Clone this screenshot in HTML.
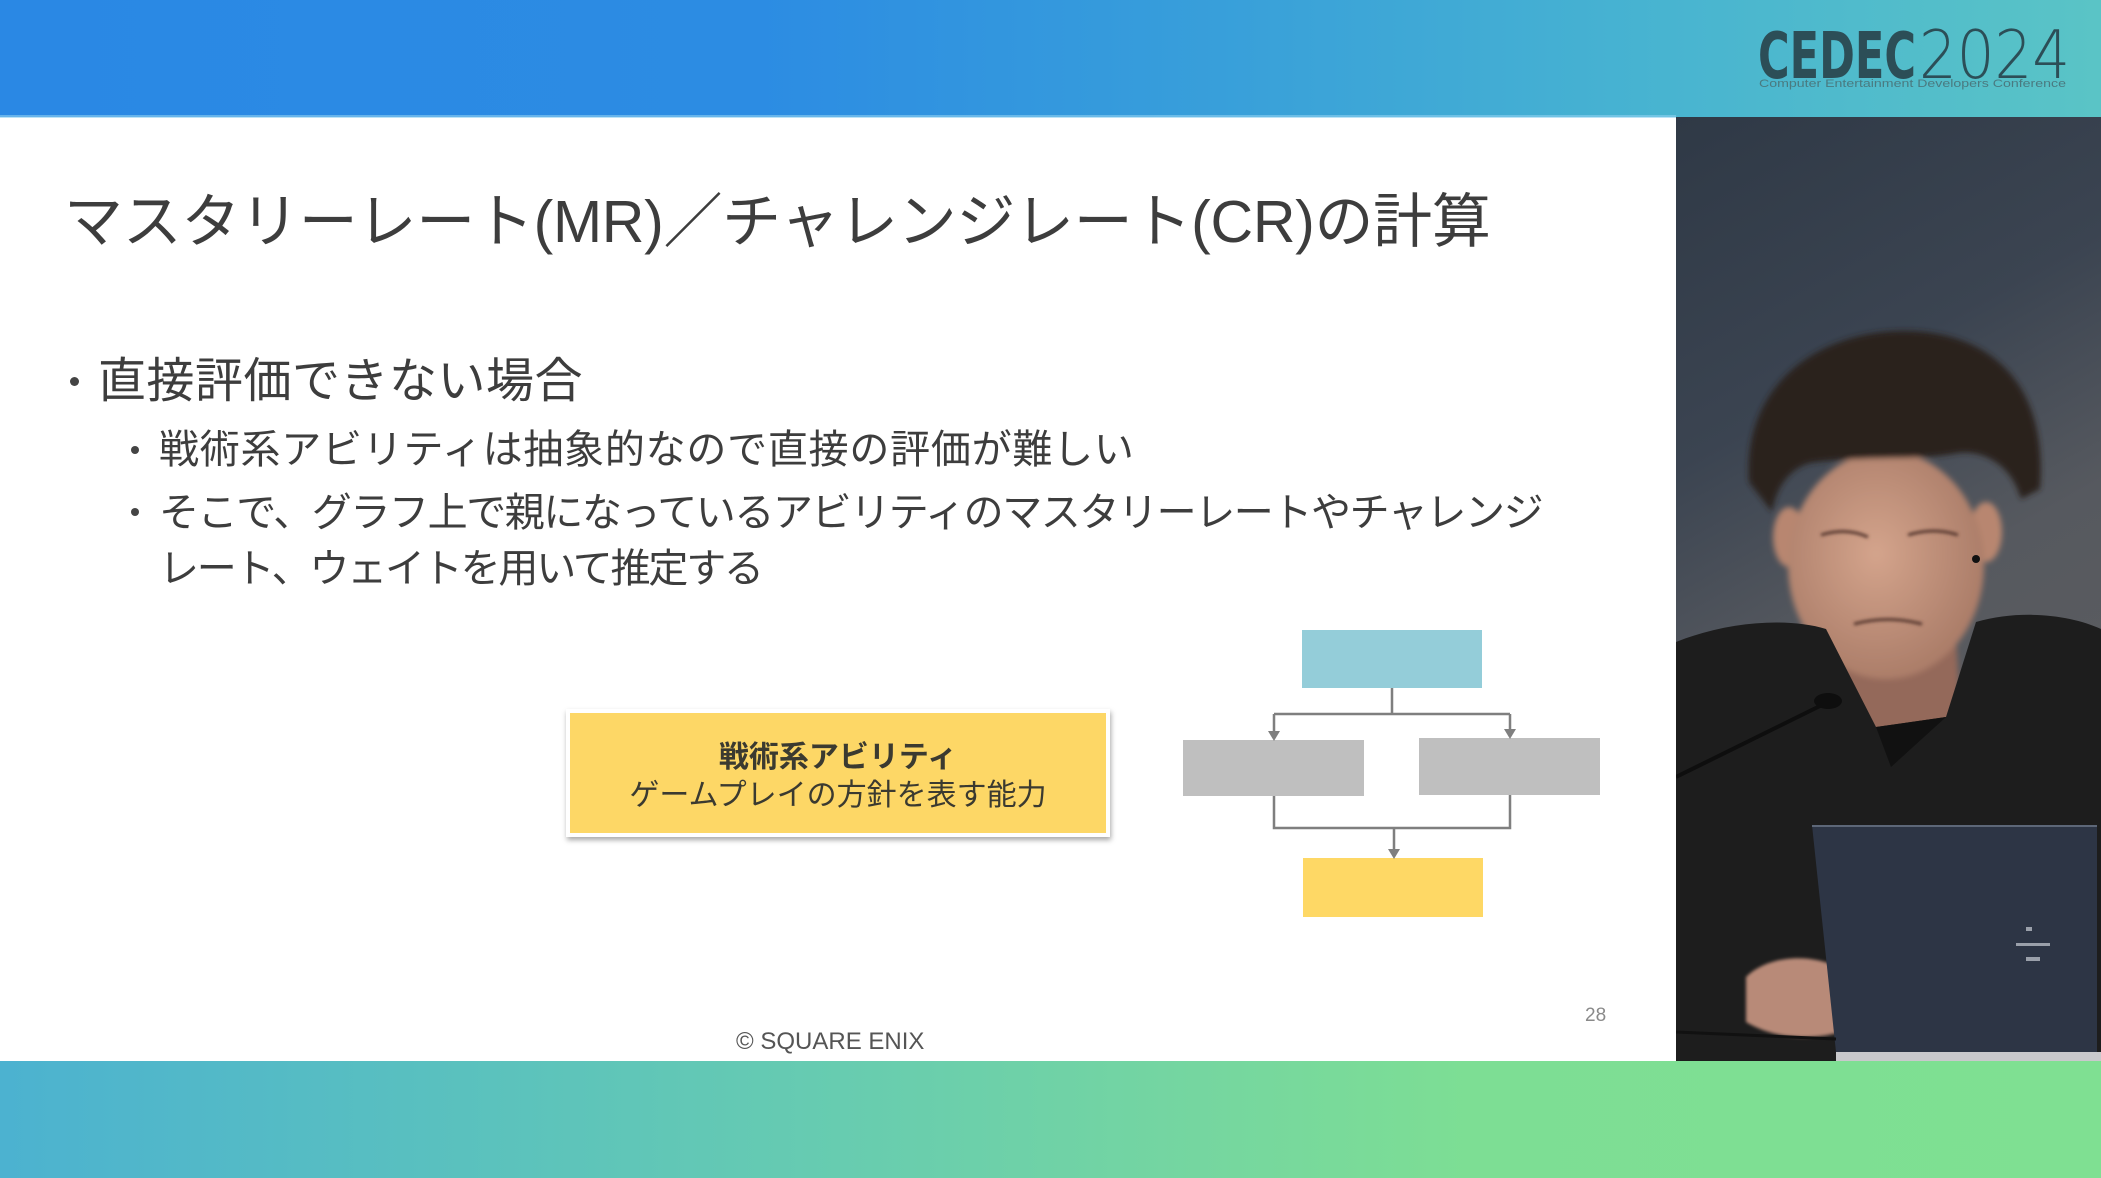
<!DOCTYPE html>
<html><head><meta charset="utf-8">
<style>
html,body{margin:0;padding:0;}
body{width:2101px;height:1178px;position:relative;overflow:hidden;background:#fff;font-family:"Liberation Sans","Noto Sans CJK JP",sans-serif;color:#3f3f3f;}
.abs{position:absolute;white-space:nowrap;}
#top{left:0;top:0;width:2101px;height:117px;background:linear-gradient(90deg,#2a88e4 0%,#2c8ce3 36%,#389fda 58%,#47b3d1 78%,#5ac4c6 100%);}
#topline{left:0;top:115px;width:1676px;height:3px;background:#8fd0f0;opacity:.6;}
#bot{left:0;top:1061px;width:2101px;height:117px;background:linear-gradient(90deg,#4cb2d0 0%,#5ac1be 22%,#67ccb0 40%,#75d6a0 57%,#7dde94 70%,#7fe092 100%);}
.t{font-family:"Liberation Sans","Noto Sans CJK JP",sans-serif;color:#3d3d3d;}
.dot{position:absolute;border-radius:50%;background:#444;}
#ybox{left:566px;top:709px;width:536px;height:120px;background:#fdd766;border:4px solid #fff;box-shadow:1px 3px 5px rgba(0,0,0,.35);}
</style></head>
<body>
<div id="top" class="abs"></div>
<div id="topline" class="abs"></div>

<!-- CEDEC logo -->
<svg class="abs" style="left:1700px;top:0" width="401" height="117" viewBox="1700 0 401 117">
  <text x="1758" y="78" font-family="DejaVu Sans, sans-serif" font-weight="bold" font-size="64" fill="#2c4e57" textLength="158" lengthAdjust="spacingAndGlyphs">CEDEC</text>
  <text x="1919" y="78" font-family="DejaVu Sans, sans-serif" font-weight="200" font-size="67" fill="#2c4e57" textLength="151" lengthAdjust="spacingAndGlyphs">2024</text>
  <text x="1759" y="87" font-family="Liberation Sans, sans-serif" font-size="11" fill="#4a7a80" textLength="307" lengthAdjust="spacingAndGlyphs">Computer Entertainment Developers Conference</text>
</svg>

<!-- Title -->
<div class="abs t" style="left:64px;top:193px;font-size:59px;line-height:59px;letter-spacing:-0.3px;">マスタリーレート(MR)／チャレンジレート(CR)の計算</div>

<!-- Bullets -->
<div class="dot" style="left:70px;top:377px;width:9px;height:9px;"></div>
<div class="abs t" style="left:98px;top:358px;font-size:48px;line-height:48px;letter-spacing:0.5px;">直接評価できない場合</div>

<div class="dot" style="left:131px;top:446px;width:8px;height:8px;"></div>
<div class="abs t" style="left:159px;top:430px;font-size:40px;line-height:40px;letter-spacing:0.75px;">戦術系アビリティは抽象的なので直接の評価が難しい</div>

<div class="dot" style="left:131px;top:508px;width:8px;height:8px;"></div>
<div class="abs t" style="left:159px;top:493px;font-size:40px;line-height:40px;letter-spacing:-1.4px;">そこで、グラフ上で親になっているアビリティのマスタリーレートやチャレンジ</div>
<div class="abs t" style="left:159px;top:549px;font-size:40px;line-height:40px;letter-spacing:-2.2px;">レート、ウェイトを用いて推定する</div>

<!-- Yellow label box -->
<div id="ybox" class="abs"></div>
<div class="abs t" style="left:566px;width:544px;top:743px;font-size:30px;line-height:30px;text-align:center;font-weight:bold;color:#3b3a30;">戦術系アビリティ</div>
<div class="abs t" style="left:566px;width:544px;top:781px;font-size:30px;line-height:30px;text-align:center;color:#3b3a30;">ゲームプレイの方針を表す能力</div>

<!-- Diagram -->
<svg class="abs" style="left:0;top:0" width="1676" height="1061" viewBox="0 0 1676 1061">
  <rect x="1302" y="630" width="180" height="58" fill="#94cdd9"/>
  <rect x="1183" y="740" width="181" height="56" fill="#bfbfbf"/>
  <rect x="1419" y="738" width="181" height="57" fill="#bfbfbf"/>
  <rect x="1303" y="858" width="180" height="59" fill="#fed865"/>
  <g stroke="#7f7f7f" stroke-width="2.5" fill="none">
    <path d="M1392 688 V714 M1274 714 H1510 M1274 714 V733 M1510 714 V731"/>
    <path d="M1274 796 V828 H1510 V795 M1394 828 V851"/>
  </g>
  <g fill="#7f7f7f">
    <polygon points="1268,731 1280,731 1274,741"/>
    <polygon points="1504,729 1516,729 1510,739"/>
    <polygon points="1388,849 1400,849 1394,859"/>
  </g>
</svg>

<!-- footer text -->
<div class="abs" style="left:736px;top:1030px;font-size:24px;line-height:24px;color:#555;font-family:'Liberation Sans',sans-serif;">© SQUARE ENIX</div>
<div class="abs" style="left:1585px;top:1006px;font-size:19px;line-height:19px;color:#8a8a8a;font-family:'Liberation Sans',sans-serif;">28</div>

<!-- Speaker video panel -->
<svg class="abs" style="left:1676px;top:117px" width="425" height="944" viewBox="0 0 425 944">
  <defs>
    <linearGradient id="bg" x1="0" y1="0" x2="0.25" y2="1">
      <stop offset="0" stop-color="#2f3946"/>
      <stop offset="0.35" stop-color="#3b4451"/>
      <stop offset="0.6" stop-color="#56595f"/>
      <stop offset="1" stop-color="#5e5e60"/>
    </linearGradient>
    <radialGradient id="skin" cx="0.45" cy="0.45" r="0.6">
      <stop offset="0" stop-color="#d4a48c"/>
      <stop offset="1" stop-color="#a87a66"/>
    </radialGradient>
    <filter id="bl" x="-20%" y="-20%" width="140%" height="140%"><feGaussianBlur stdDeviation="3"/></filter>
    <filter id="bl2"><feGaussianBlur stdDeviation="1.5"/></filter>
  </defs>
  <rect width="425" height="944" fill="url(#bg)"/>
  <g filter="url(#bl)">
    <path d="M150 520 L280 520 L285 610 L200 640 L150 600 Z" fill="#94695a"/>
    <ellipse cx="113" cy="420" rx="16" ry="30" fill="#b88670"/>
    <ellipse cx="310" cy="415" rx="16" ry="30" fill="#b88670"/>
    <ellipse cx="210" cy="448" rx="98" ry="114" fill="url(#skin)"/>
    <path d="M73 365 C66 262 150 212 232 214 C320 216 372 272 364 372 L345 382 C335 346 306 333 282 336 C244 344 192 338 134 346 C112 352 100 372 96 395 Z" fill="#2a211e"/>
  </g>
  <g filter="url(#bl2)" stroke="#5a3a30" stroke-width="3" fill="none">
    <path d="M145 418 Q170 410 192 420"/>
    <path d="M232 418 Q258 410 282 418"/>
    <path d="M178 507 Q212 498 246 507"/>
  </g>
  <circle cx="300" cy="442" r="4" fill="#111"/>
  <path d="M0 525 C50 505 110 500 150 512 L200 610 L270 600 L300 505 C345 492 395 498 425 512 L425 944 L0 944 Z" fill="#1d1d1d"/>
  <path d="M200 610 L215 650 L270 600 Z" fill="#111"/>
  <line x1="0" y1="660" x2="150" y2="586" stroke="#0e0e0e" stroke-width="4"/>
  <ellipse cx="152" cy="584" rx="14" ry="8" fill="#0e0e0e"/>
  <path d="M70 860 C90 840 130 835 162 850 L165 915 C130 925 95 920 70 905 Z" fill="#b88a78" filter="url(#bl2)"/>
  <polygon points="136,708 421,708 421,935 160,935" fill="#2d3545"/>
  <line x1="136" y1="709" x2="421" y2="709" stroke="#5d6778" stroke-width="2"/>
  <g fill="#9aa0aa">
    <rect x="350" y="810" width="6" height="4"/>
    <rect x="340" y="826" width="20" height="3"/>
    <rect x="360" y="826" width="14" height="3"/>
    <rect x="350" y="840" width="14" height="4"/>
  </g>
  <line x1="0" y1="915" x2="160" y2="922" stroke="#111" stroke-width="3"/>
  <rect x="160" y="935" width="265" height="9" fill="#c9c9cc"/>
</svg>

<div id="bot" class="abs"></div>
</body></html>
